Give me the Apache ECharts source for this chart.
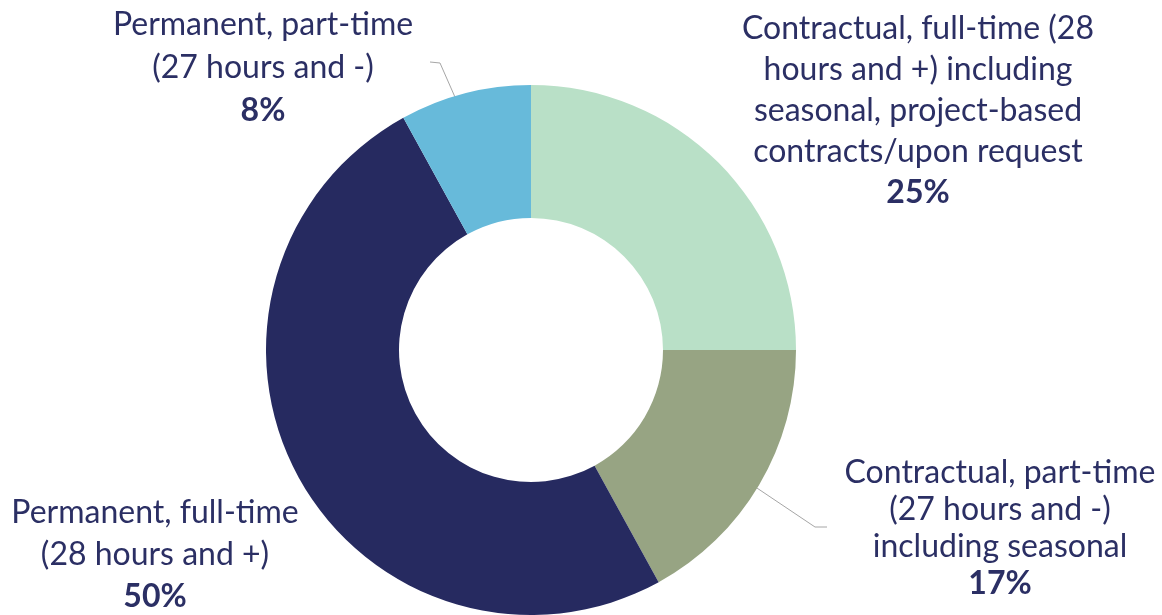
<!DOCTYPE html>
<html>
<head>
<meta charset="utf-8">
<title>Employment types</title>
<script src="https://cdn.jsdelivr.net/npm/echarts@6/dist/echarts.min.js"></script>
<style>
  html, body { margin: 0; padding: 0; background: #ffffff; }
  #chart { width: 1162px; height: 615px; }
</style>
</head>
<body>
<div id="chart"></div>
<script>
// Employment categories, in clockwise order from 12 o'clock
const categories = [
  'Contractual, full-time (28 hours and +) including seasonal, project-based contracts/upon request',
  'Contractual, part-time (27 hours and -) including seasonal',
  'Permanent, full-time (28 hours and +)',
  'Permanent, part-time (27 hours and -)'
];
// Wrapped label text for each category
const labelLines = [
  ['Contractual, full-time (28', 'hours and +) including', 'seasonal, project-based', 'contracts/upon request'],
  ['Contractual, part-time', '(27 hours and -)', 'including seasonal'],
  ['Permanent, full-time', '(28 hours and +)'],
  ['Permanent, part-time', '(27 hours and -)']
];
// Share of respondents, percent
const shares = [25, 17, 50, 8];

const sliceColors = ['#b9e0c7', '#97a483', '#262a60', '#67badA'];
const textColor = '#2b2f64';
const fontFamily = 'Lato, "Open Sans", sans-serif';
const fontSize = 32;

// Ring geometry
const center = [531, 350];
const innerR = 132;
const outerR = 265;

// Label anchor (block centre) and line spacing per category
const labelPos = [[918, 111], [1000, 528], [155, 555], [263, 68]];
const labelLineHeight = [41, 37, 42, 43];
// Leader line elbows (null = no leader line)
const leaderElbows = [null, [[815, 527], [827, 527]], null, [[440, 63], [430, 62]]];

const total = shares.reduce((a, b) => a + b, 0);
function midPoint(i) {
  let before = 0;
  for (let k = 0; k < i; k++) before += shares[k];
  const frac = (before + shares[i] / 2) / total;
  const ang = frac * Math.PI * 2;
  const r = (innerR + outerR) / 2;
  return [center[0] + r * Math.sin(ang), center[1] - r * Math.cos(ang)];
}

const data = categories.map((name, i) => ({
  name: name,
  value: shares[i],
  itemStyle: { color: sliceColors[i] },
  label: {
    formatter: labelLines[i].map(l => '{t|' + l + '}').join('\n') + '\n{b|' + shares[i] + '%}',
    rich: {
      t: { fontSize: fontSize, fontFamily: fontFamily, color: textColor, lineHeight: labelLineHeight[i], align: 'center' },
      b: { fontSize: fontSize, fontFamily: fontFamily, color: textColor, fontWeight: 'bold', lineHeight: labelLineHeight[i], align: 'center' }
    }
  },
  labelLine: { show: leaderElbows[i] !== null }
}));

const chart = echarts.init(document.getElementById('chart'), null, { renderer: 'canvas' });
chart.setOption({
  backgroundColor: '#ffffff',
  animation: false,
  series: [{
    type: 'pie',
    center: center,
    radius: [innerR, outerR],
    startAngle: 90,
    clockwise: true,
    avoidLabelOverlap: false,
    label: { show: true, position: 'outside' },
    labelLine: { show: true, lineStyle: { color: '#a6a6a6', width: 1 } },
    emphasis: { disabled: true },
    data: data,
    labelLayout: function (params) {
      const i = params.dataIndex;
      const out = {
        x: labelPos[i][0],
        y: labelPos[i][1],
        align: 'center',
        verticalAlign: 'middle'
      };
      if (leaderElbows[i]) {
        out.labelLinePoints = [midPoint(i)].concat(leaderElbows[i]);
      }
      return out;
    }
  }]
});
</script>
</body>
</html>
